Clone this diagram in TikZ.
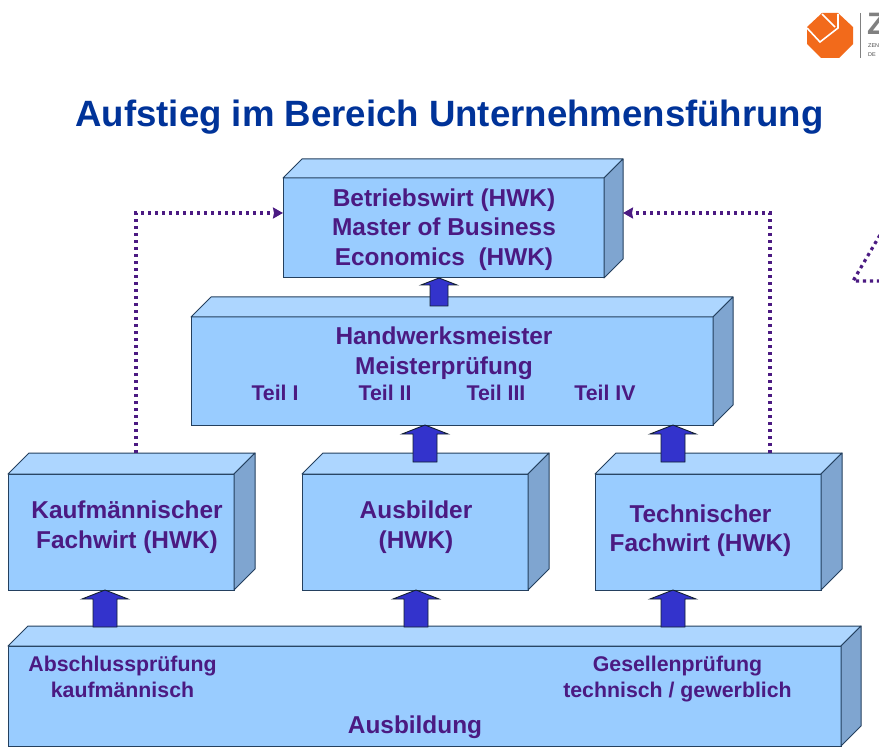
\documentclass[tikz,border=0pt]{standalone}
\usepackage{fontspec}
\setmainfont{Liberation Sans}
\usetikzlibrary{arrows.meta,calc}
\definecolor{txtpurple}{HTML}{4B1A82}
\definecolor{titleblue}{HTML}{003399}
\definecolor{facefront}{HTML}{99CCFF}
\definecolor{facetop}{HTML}{ADD6FF}
\definecolor{faceside}{HTML}{7FA5D0}
\definecolor{edgecol}{HTML}{24405F}
\definecolor{arrowfill}{HTML}{3333CC}
\definecolor{logoorange}{HTML}{F26A1B}
\tikzset{
  x=1pt,y=-1pt,
  front/.style={draw=edgecol,line width=1pt,fill=facefront,anchor=north west,inner sep=0pt,outer sep=0pt},
  topface/.style={draw=edgecol,line width=1pt,fill=facetop,line join=round},
  sideface/.style={draw=edgecol,line width=1pt,fill=faceside,line join=round},
  blockarrow/.style={draw=edgecol!50!black,line width=.9pt,fill=arrowfill,line join=miter},
  boxtext/.style={text=txtpurple,font=\bfseries\fontsize{24.4}{29.5}\selectfont,align=center,inner sep=0pt},
  smalltext/.style={text=txtpurple,font=\bfseries\fontsize{21.3}{26}\selectfont,align=center,inner sep=0pt},
  dottedlink/.style={draw=txtpurple,line width=3.2pt,dash pattern=on 3.2pt off 3.8pt},
  dottedhead/.style={-{Stealth[length=10pt,width=11pt,inset=1pt]}},
  logotext/.style={anchor=base west,inner sep=0pt,font=\fontsize{5.5}{6}\selectfont,text=black!70},
}
% name, x1, y1, x2, y2, depth
\newcommand{\cuboid}[6]{%
  \node[front,minimum width=#4-#2,minimum height=#5-#3] (#1) at (#2,#3) {};
  \draw[topface] (#1.north west) -- ++(#6,-#6) -- ++(#4-#2,0) -- (#1.north east) -- cycle;
  \draw[sideface] (#1.north east) -- ++(#6,-#6) -- ++(0,#5-#3) -- (#1.south east) -- cycle;
}
% centre x, tip y, head-base y, bottom y, half head, half shaft
\newcommand{\blockup}[6]{%
  \draw[blockarrow] (#1,#2) -- (#1+#5,#3) -- (#1+#6,#3) -- (#1+#6,#4) -- (#1-#6,#4) -- (#1-#6,#3) -- (#1-#5,#3) -- cycle;
}
\begin{document}
\begin{tikzpicture}
\useasboundingbox (0,0) rectangle (879,754);
\clip (0,0) rectangle (879,754);
\fill[white] (0,0) rectangle (879,754);
% logo
\fill[logoorange] (822,13) -- (838,13) -- (853,27) -- (853,44) -- (839,58) -- (821,58) -- (807,44) -- (807,27) -- cycle;
\draw[white,line width=1.6pt] (807,28) -- (820,42) -- (838,28) -- (838,14);
\draw[white,line width=1.6pt] (822,14) -- (835,27);
\draw[gray,line width=1pt] (860,13) -- (860,58);
\node[anchor=base west,inner sep=0pt,text=gray,font=\bfseries\fontsize{31}{31}\selectfont] (logoz) at (867,35) {Z};
\node[logotext] (logoa) at (868,48) {ZEN};
\node[logotext] (logob) at (868,57) {DE};
% title
\node[text=titleblue,font=\bfseries\fontsize{36.6}{40}\selectfont,inner sep=0pt] (title) at (449.5,117.5) {Aufstieg im Bereich Unternehmensführung};
% boxes
\cuboid{bw}{283}{178}{604}{278}{19}
\cuboid{hm}{191}{317}{713}{425}{20}
\cuboid{kf}{8}{474}{234}{590}{21}
\cuboid{au}{302}{474}{528}{590}{21}
\cuboid{tf}{595}{474}{821}{590}{21}
\cuboid{ab}{8}{646}{841}{746}{20}
% block arrows
\blockup{439}{278}{285}{306}{18}{9}
\blockup{425}{425}{434}{462}{23}{12}
\blockup{673}{425}{434}{462}{23}{12}
\blockup{105}{590}{599}{627}{23}{12}
\blockup{416}{590}{599}{627}{23}{12}
\blockup{673}{590}{599}{627}{23}{12}
% dotted links
\coordinate (kfup) at (136,453);
\coordinate (tfup) at (770,453);
\coordinate (bwl) at (283,213);
\coordinate (bwr) at (623,213);
\draw[dottedlink,dottedhead] (kfup) |- (bwl);
\draw[dottedlink,dottedhead] (tfup) |- (bwr);
\coordinate (ta) at (880,281);
\coordinate (tb) at (853,281);
\coordinate (tc) at (880,235);
\draw[dottedlink] (ta) -- (tb) -- (tc);
% labels
\node[boxtext] (bwt) at (444,229.5) {Betriebswirt (HWK)\\Master of Business\\Economics~~(HWK)};
\node[boxtext] (hmt) at (444,353) {Handwerksmeister\\Meisterprüfung};
\node[smalltext] (t1) at (275,392.5) {Teil I};
\node[smalltext] (t2) at (385,392.5) {Teil II};
\node[smalltext] (t3) at (496,392.5) {Teil III};
\node[smalltext] (t4) at (605,392.5) {Teil IV};
\node[boxtext] (kft) at (127,527) {Kaufmännischer\\Fachwirt (HWK)};
\node[boxtext] (aut) at (416,527) {Ausbilder\\(HWK)};
\node[boxtext] (tft) at (700.5,530.5) {Technischer\\Fachwirt (HWK)};
\node[smalltext] (abl) at (122.5,677) {Abschlussprüfung\\kaufmännisch};
\node[smalltext] (abr) at (677.5,679) {Gesellenprüfung\\technisch / gewerblich};
\node[boxtext] (abm) at (415,727) {Ausbildung};
\end{tikzpicture}
\end{document}
